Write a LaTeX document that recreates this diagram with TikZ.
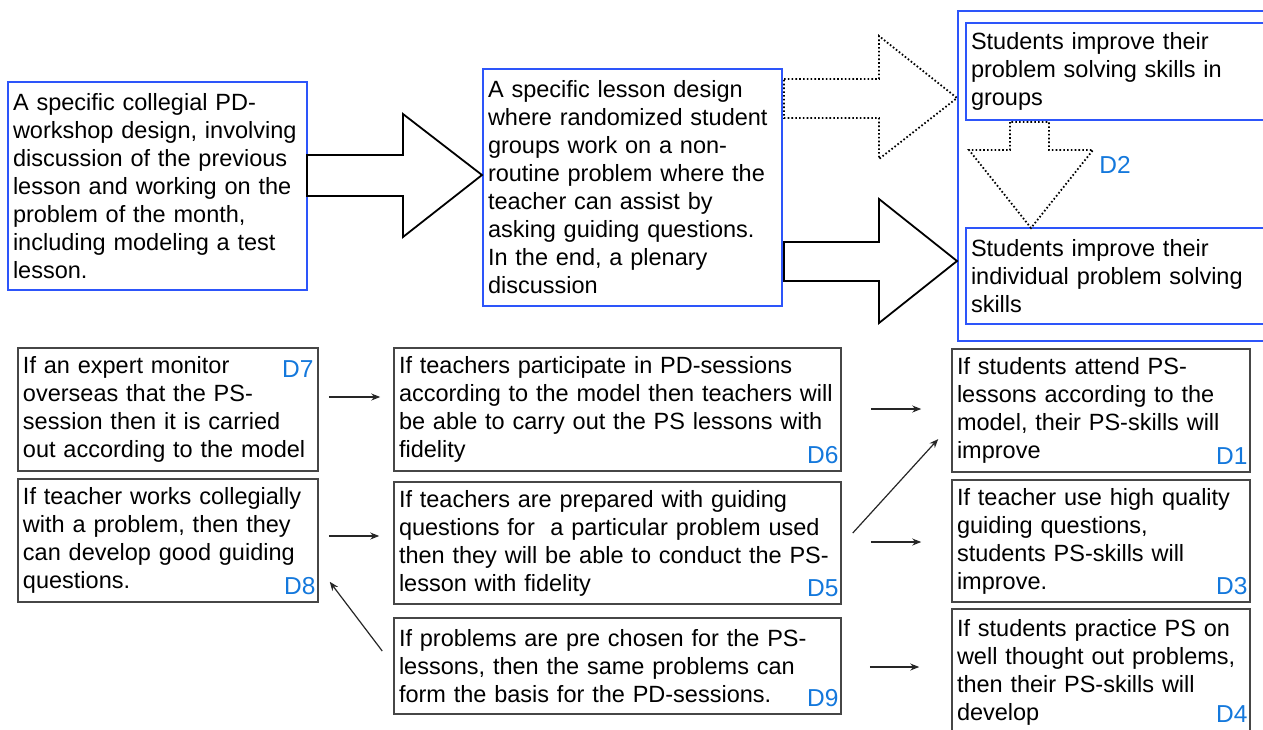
\documentclass[tikz,border=0pt]{standalone}
\usepackage{fontspec}
\setmainfont{Liberation Sans}
\usetikzlibrary{arrows.meta, positioning, calc}

\definecolor{boxblue}{RGB}{45,85,250}
\definecolor{dblue}{RGB}{20,120,220}
\definecolor{boxgray}{RGB}{70,70,70}
\newcommand{\boxfont}{\fontsize{23.5pt}{28pt}\selectfont}

\tikzset{
  goal/.style={draw=boxblue, line width=2pt, align=left, inner xsep=5pt, font=\boxfont},
  claim/.style={draw=boxgray, line width=1.5pt, align=left, inner xsep=5pt, font=\boxfont},
  dlab/.style={text=dblue, font=\fontsize{24.5pt}{28pt}\selectfont, inner sep=0pt},
  dbot/.style={label={[dlab, anchor=base east, xshift=-3pt, yshift=8pt]south east:#1}},
  dtop/.style={label={[dlab, anchor=base east, xshift=-5pt, yshift=-30pt]north east:#1}},
  thin/.style={-{Stealth[length=9pt,width=7pt]}, line width=1.2pt, draw=black!85},
  block/.style={draw=black, line width=1.8pt, fill=white, line join=miter},
  dotblock/.style={block, dash pattern=on 1.6pt off 2.2pt},
}

\begin{document}
\begin{tikzpicture}[x=1pt, y=-1pt]
\useasboundingbox (0,0) rectangle (1263,729);

%// top row
\node [goal, minimum width=299, minimum height=208, text width=289] (pdw) at (157.5,186)
 {A specific collegial PD-\\workshop design, involving\\discussion of the previous\\lesson and working on the\\problem of the month,\\including modeling a test\\lesson.};
\node [goal, minimum width=299, minimum height=237, text width=289] (lsn) at (632.5,187.5)
 {A specific lesson design\\where randomized student\\groups work on a non-\\routine problem where the\\teacher can assist by\\asking guiding questions.\\In the end, a plenary\\discussion};

\node [goal, minimum width=312, minimum height=330] (grp) at (1114,176) {};
\node [goal, minimum width=300, minimum height=97, text width=290] (sgr) at (1116,71.5)
 {Students improve their\\problem solving skills in\\groups};
\node [goal, minimum width=300, minimum height=96, text width=290] (sind) at (1116,276)
 {Students improve their\\individual problem solving\\skills};

%// block arrows
\draw [block] (307,155) -- (403,155) -- (403,114) -- (482,175) -- (403,237) -- (403,196) -- (307,196) -- cycle;
\draw [dotblock] (784,79) -- (879,79) -- (879,36) -- (957,98) -- (879,159) -- (879,118) -- (784,118) -- cycle;
\draw [block] (784,242) -- (879,242) -- (879,199) -- (957,261) -- (879,323) -- (879,281) -- (784,281) -- cycle;
\draw [dotblock] (1010,122) -- (1010,150) -- (969,150) -- (1031,228) -- (1093,150) -- (1049,150) -- (1049,122) -- cycle;
\node [dlab] (dtwo) at (1115,165) {D2};

%// left column
\node [claim, dtop=D7, minimum width=300, minimum height=123, text width=290] (d7) at (168,409.5)
 {If an expert monitor\\overseas that the PS-\\session then it is carried\\out according to the model};
\node [claim, dbot=D8, minimum width=300, minimum height=123, text width=290] (d8) at (168,540.5)
 {If teacher works collegially\\with a problem, then they\\can develop good guiding\\questions.};

%// middle column
\node [claim, dbot=D6, minimum width=447, minimum height=123, text width=437] (d6) at (617.5,409.5)
 {If teachers participate in PD-sessions\\according to the model then teachers will\\be able to carry out the PS lessons with\\fidelity};
\node [claim, dbot=D5, minimum width=447, minimum height=122, text width=437] (d5) at (617.5,543)
 {If teachers are prepared with guiding\\questions for \ a particular problem used\\then they will be able to conduct the PS-\\lesson with fidelity};
\node [claim, dbot=D9, minimum width=447, minimum height=96, text width=437] (d9) at (617.5,666)
 {If problems are pre chosen for the PS-\\lessons, then the same problems can\\form the basis for the PD-sessions.};

%// right column
\node [claim, dbot=D1, minimum width=298, minimum height=123, text width=288] (d1) at (1101,410.5)
 {If students attend PS-\\lessons according to the\\model, their PS-skills will\\improve};
\node [claim, dbot=D3, minimum width=298, minimum height=122, text width=288] (d3) at (1101,541)
 {If teacher use high quality\\guiding questions,\\students PS-skills will\\improve.};
\node [claim, label={[dlab, anchor=base east, xshift=-3pt, yshift=14pt]south east:D4}, minimum width=298, minimum height=127, text width=288] (d4) at (1101,672.5)
 {If students practice PS on\\well thought out problems,\\then their PS-skills will\\develop};

%// thin arrows
\coordinate (s7) at ($(d7.east)+(10,-12.5)$);
\coordinate (s8) at ($(d8.east)+(10,-4.5)$);
\coordinate (s6) at ($(d6.east)+(29,-0.5)$);
\coordinate (s5) at ($(d5.east)+(29,-1)$);
\coordinate (s9) at ($(d9.east)+(28,1)$);
\draw [thin, shorten >=13pt] (s7) -- (s7 -| d6.west);
\draw [thin, shorten >=14pt] (s8) -- (s8 -| d5.west);
\draw [thin, shorten >=30pt] (s6) -- (s6 -| d1.west);
\draw [thin, shorten >=30pt] (s5) -- (s5 -| d3.west);
\draw [thin, shorten >=32pt] (s9) -- (s9 -| d4.west);
\draw [thin] ($(d5.east)+(11,-10)$) -- ($(d1.west)+(-13,28.5)$);
\draw [thin] ($(d9.west)+(-11,-15)$) -- ($(d8.south east)+(11,-21)$);

\end{tikzpicture}
\end{document}
